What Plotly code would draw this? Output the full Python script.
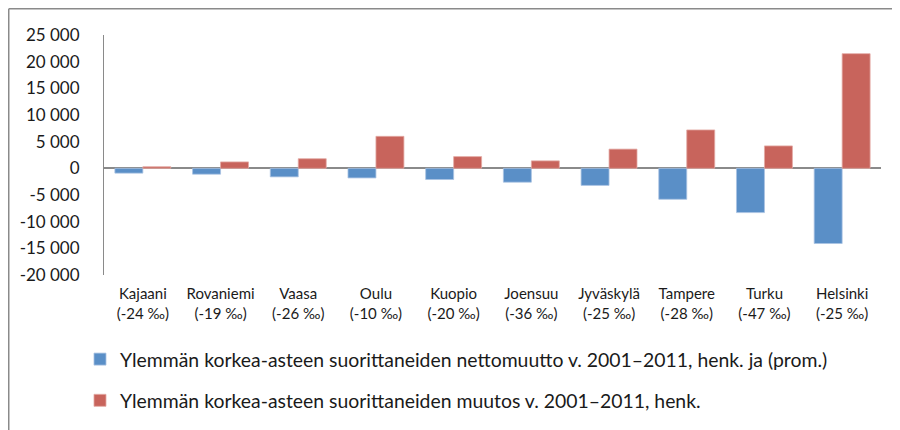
import plotly.graph_objects as go

cities = ["Kajaani", "Rovaniemi", "Vaasa", "Oulu", "Kuopio", "Joensuu",
          "Jyväskylä", "Tampere", "Turku", "Helsinki"]
permille = ["-24 ‰", "-19 ‰", "-26 ‰", "-10 ‰", "-20 ‰", "-36 ‰",
            "-25 ‰", "-28 ‰", "-47 ‰", "-25 ‰"]
net_migration = [-900, -1100, -1600, -1800, -2100, -2600, -3200, -5800, -8300, -14100]
change = [300, 1200, 1800, 6000, 2200, 1400, 3600, 7200, 4200, 21500]

y_ticks = [-20000, -15000, -10000, -5000, 0, 5000, 10000, 15000, 20000, 25000]
y_tick_labels = ["-20 000", "-15 000", "-10 000", "-5 000", "0", "5 000",
                 "10 000", "15 000", "20 000", "25 000"]

name_net = "Ylemmän korkea-asteen suorittaneiden nettomuutto v. 2001–2011, henk. ja (prom.)"
name_change = "Ylemmän korkea-asteen suorittaneiden muutos v. 2001–2011, henk."

labels = [f"{c}<br>({p})" for c, p in zip(cities, permille)]

BLUE = "#5A8FC7"
RED = "#C8645C"
FONT = "Lato"

fig = go.Figure()
fig.add_trace(go.Bar(x=labels, y=net_migration, name=name_net, legendgroup="a",
                     marker=dict(color=BLUE, line=dict(color="#A9C3E2", width=0.8))))
fig.add_trace(go.Bar(x=labels, y=change, name=name_change, legendgroup="b",
                     marker=dict(color=RED, line=dict(color="#E3A9A4", width=0.8))))

fig.update_layout(
    width=892, height=422,
    margin=dict(l=96, r=19, t=27, b=155, autoexpand=False),
    paper_bgcolor="white", plot_bgcolor="white",
    barmode="group", bargap=0.28, bargroupgap=0,
    font=dict(family=FONT, color="#1a1a1a"),
    showlegend=True,
    legend=dict(xref="container", yref="container",
                x=0.0807, xanchor="left", y=0.2133, yanchor="top",
                traceorder="grouped", tracegroupgap=13,
                font=dict(family=FONT, size=19.4, color="#1a1a1a"),
                bgcolor="rgba(0,0,0,0)"),
    shapes=[
        dict(type="line", xref="paper", yref="paper", x0=-0.1226, x1=1.03, y0=1.1094, y1=1.1094,
             line=dict(color="#8a8a8a", width=1.5)),
        dict(type="line", xref="paper", yref="paper", x0=-0.1226, x1=-0.1226, y0=1.1094, y1=-0.646,
             line=dict(color="#8a8a8a", width=1.5)),
    ],
)
fig.update_xaxes(showgrid=False, showline=False, ticks="", ticklabelstandoff=8,
                 tickfont=dict(family=FONT, size=15, color="#1a1a1a"))
fig.update_yaxes(range=[-20000, 25000], tickvals=y_ticks, ticktext=y_tick_labels,
                 showgrid=False, showline=True, linecolor="#8a8a8a", linewidth=1,
                 zeroline=True, zerolinecolor="#8a8a8a", zerolinewidth=2,
                 ticks="", ticklabelstandoff=20,
                 tickfont=dict(family=FONT, size=17, color="#1a1a1a"))

fig.write_html("out.html")
